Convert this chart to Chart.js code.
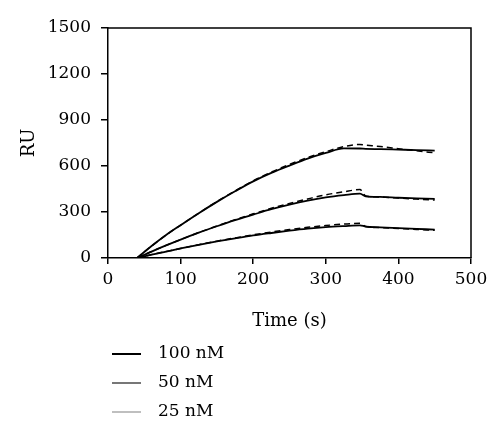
<!DOCTYPE html>
<html>
<head>
<meta charset="utf-8">
<script src="https://cdn.jsdelivr.net/npm/chart.js@4/dist/chart.umd.min.js"></script>
<style>
  html, body { margin: 0; padding: 0; background: #fff; }
  #wrap { width: 500px; height: 443px; position: relative; }
</style>
</head>
<body>
<div id="wrap"><canvas id="sensorgram"></canvas></div>
<script>
// time points (s)
const times = [40, 60, 80, 100, 125, 150, 175, 200, 225, 250, 275, 300, 325, 347, 355, 375, 400, 425, 450];

// fitted curves (solid)
const fit100 = [0, 78, 150, 214, 292, 366, 435, 500, 555, 603, 648, 685, 715, 714, 712, 710, 707, 704, 700];
const fit50 = [0, 42, 82, 120, 165, 207, 247, 283, 318, 348, 374, 395, 410, 420, 402, 398, 393, 389, 385];
const fit25 = [0, 22, 42, 62, 86, 108, 128, 147, 163, 178, 191, 201, 208, 213, 205, 200, 195, 190, 185];

// measured curves (dashed)
const obs100 = [0, 78, 150, 214, 292, 368, 438, 503, 560, 610, 655, 693, 727, 740, 736, 727, 713, 699, 686];
const obs50 = [0, 42, 82, 120, 166, 209, 250, 288, 324, 356, 385, 412, 432, 446, 405, 398, 391, 384, 378];
const obs25 = [0, 22, 42, 62, 87, 110, 131, 151, 169, 186, 200, 212, 221, 226, 205, 198, 192, 186, 181];

const legendLabels = ["100 nM", "50 nM", "25 nM"];
const legendColors = ["#000000", "#4a4a4a", "#aaaaaa"];
const legendWidths = [2, 1.5, 1.5];

const FONT = "'DejaVu Serif', 'Liberation Serif', serif";

function toPoints(vals) {
    return vals.map((v, i) => ({ x: times[i], y: v }));
}

function line(label, vals, dashed) {
    return {
        label: label,
        data: toPoints(vals),
        borderColor: "#000",
        borderWidth: dashed ? 1.5 : 1.8,
        borderDash: dashed ? [6, 4] : [],
        pointRadius: 0,
        fill: false,
        cubicInterpolationMode: "monotone"
    };
}

// box on top and right of the plot
const framePlugin = {
    id: "frame",
    afterDatasetsDraw(chart) {
        const { ctx, chartArea: a } = chart;
        ctx.save();
        ctx.strokeStyle = "#000";
        ctx.lineWidth = 1.5;
        ctx.beginPath();
        ctx.moveTo(a.left, a.top);
        ctx.lineTo(a.right, a.top);
        ctx.lineTo(a.right, a.bottom);
        ctx.stroke();
        ctx.restore();
    }
};

// stacked legend under the axis title
const legendPlugin = {
    id: "stackLegend",
    afterDraw(chart) {
        const ctx = chart.ctx;
        const x0 = 112, y0 = 354, gap = 29;
        ctx.save();
        ctx.font = "17px " + FONT;
        ctx.textBaseline = "middle";
        ctx.fillStyle = "#000";
        legendLabels.forEach((lab, i) => {
            const y = y0 + i * gap;
            ctx.strokeStyle = legendColors[i];
            ctx.lineWidth = legendWidths[i];
            ctx.beginPath();
            ctx.moveTo(x0, y);
            ctx.lineTo(x0 + 29, y);
            ctx.stroke();
            ctx.fillText(lab, x0 + 46, y);
        });
        ctx.restore();
    }
};

new Chart(document.getElementById("sensorgram"), {
    type: "line",
    data: {
        datasets: [
            line("100 nM", fit100, false),
            line("50 nM", fit50, false),
            line("25 nM", fit25, false),
            line("100 nM data", obs100, true),
            line("50 nM data", obs50, true),
            line("25 nM data", obs25, true)
        ]
    },
    options: {
        responsive: true,
        maintainAspectRatio: false,
        animation: false,
        layout: { padding: { left: 0, right: 29, top: 28, bottom: 105 } },
        plugins: {
            legend: { display: false },
            tooltip: { enabled: false }
        },
        scales: {
            x: {
                type: "linear",
                min: 0,
                max: 500,
                ticks: { stepSize: 100, color: "#000", padding: 5, maxRotation: 0, font: { family: FONT, size: 17 },
                         callback: v => String(v) },
                grid: { drawOnChartArea: false, drawTicks: true, tickLength: 6, color: "#000", lineWidth: 1.5 },
                border: { color: "#000", width: 1.5 },
                title: { display: true, text: "Time (s)", color: "#000", padding: { top: 0, bottom: 6 }, font: { family: FONT, size: 18 } },
                afterFit(scale) { scale.height = 80; }
            },
            y: {
                min: 0,
                max: 1500,
                ticks: { stepSize: 300, color: "#000", padding: 10, font: { family: FONT, size: 17 },
                         callback: v => String(v) },
                grid: { drawOnChartArea: false, drawTicks: true, tickLength: 7, color: "#000", lineWidth: 1.5 },
                border: { color: "#000", width: 1.5 },
                title: { display: true, text: "RU", color: "#000", padding: { top: 19, bottom: 0 }, font: { family: FONT, size: 18 } },
                afterFit(scale) { scale.width = 108; }
            }
        }
    },
    plugins: [framePlugin, legendPlugin]
});
</script>
</body>
</html>
